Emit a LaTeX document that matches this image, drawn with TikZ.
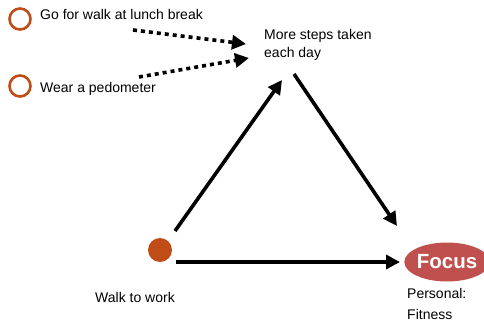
\documentclass[tikz,border=0pt]{standalone}
\usepackage{fontspec}
\setmainfont{Liberation Sans}
\usetikzlibrary{arrows.meta,shapes.geometric}
\definecolor{rust}{RGB}{192,76,24}
\definecolor{focusred}{RGB}{192,80,77}
\tikzset{
  lbl/.style={font=\fontsize{14}{17}\selectfont, inner sep=0pt, align=left},
  ring/.style={circle, draw=rust, line width=2.6pt, minimum size=21pt, inner sep=0pt},
  dot/.style={circle, fill=rust, minimum size=24pt, inner sep=0pt},
  bigarrow/.style={line width=3.6pt, -{Triangle[length=14pt,width=14pt]}},
  dotarrow/.style={line width=3.6pt, dash pattern=on 4pt off 4pt, -{Triangle[length=14pt,width=14pt]}},
}
\begin{document}
\begin{tikzpicture}[x=1pt,y=-1pt]
\useasboundingbox (0,0) rectangle (484,324);
% inputs
\node[ring] (r1) at (20,19) {};
\node[lbl, anchor=base west] (t1) at (40,19.5) {Go for walk at lunch break};
\node[ring] (r2) at (20,86) {};
\node[lbl, anchor=base west] (t2) at (40,92.5) {Wear a pedometer};
% outcome text (anchored on the baseline of its last line)
\node[lbl, anchor=base west, font=\fontsize{14}{17.5}\selectfont] (steps) at (264,57) {More steps taken\\each day};
% arrow anchors
\coordinate (d1s) at (133,30);
\coordinate (d1e) at (246,44);
\coordinate (d2s) at (139,77);
\coordinate (d2e) at (249,58);
\draw[dotarrow] (d1s) -- (d1e);
\draw[dotarrow] (d2s) -- (d2e);
% walk node
\node[dot] (walk) at (160,250) {};
\node[lbl, anchor=base west] (wt) at (95,302) {Walk to work};
% focus
\node[ellipse, fill=focusred, minimum width=84pt, minimum height=39pt, inner sep=0pt,
      text=white, font=\fontsize{20.5}{24}\selectfont\bfseries] (focus) at (447,262) {Focus};
\node[lbl, anchor=base west, font=\fontsize{14}{21}\selectfont] (pf) at (407,319) {Personal:\\Fitness};
% triangle arrows
\coordinate (a1s) at (175,231);
\coordinate (a1e) at (282,80);
\coordinate (a2s) at (294,74);
\coordinate (a2e) at (397,226);
\coordinate (a3s) at (176,262);
\coordinate (a3e) at (400,262);
\draw[bigarrow] (a1s) -- (a1e);
\draw[bigarrow] (a2s) -- (a2e);
\draw[bigarrow] (a3s) -- (a3e);
\end{tikzpicture}
\end{document}
